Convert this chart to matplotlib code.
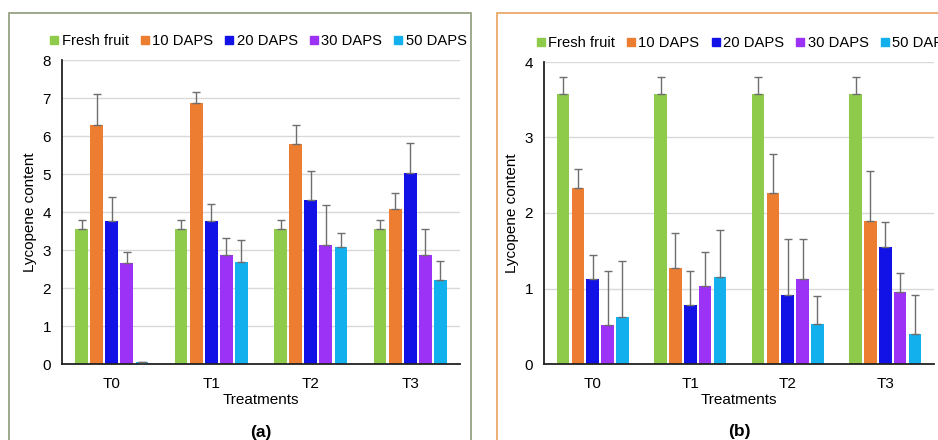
import matplotlib
matplotlib.use("Agg")
import matplotlib.pyplot as plt
import numpy as np
from matplotlib.patches import Rectangle
from matplotlib.lines import Line2D

plt.rcParams['font.family'] = ['Liberation Sans', 'DejaVu Sans']

treatments = ["T0", "T1", "T2", "T3"]
series = ["Fresh fruit", "10 DAPS", "20 DAPS", "30 DAPS", "50 DAPS"]
colors = ["#8FCB4A", "#ED7D31", "#1212E6", "#9B32F5", "#12B0EC"]

# panel (a) values and upper error limits
a_fresh = [3.55, 3.55, 3.55, 3.55]
a_10 = [6.28, 6.88, 5.80, 4.08]
a_20 = [3.75, 3.75, 4.32, 5.02]
a_30 = [2.65, 2.88, 3.12, 2.88]
a_50 = [0.05, 2.68, 3.08, 2.22]
a_err_fresh = [0.23, 0.23, 0.23, 0.23]
a_err_10 = [0.82, 0.27, 0.48, 0.42]
a_err_20 = [0.65, 0.47, 0.76, 0.80]
a_err_30 = [0.30, 0.44, 1.06, 0.67]
a_err_50 = [0.0, 0.57, 0.37, 0.50]

# panel (b)
b_fresh = [3.57, 3.57, 3.57, 3.57]
b_10 = [2.33, 1.27, 2.27, 1.90]
b_20 = [1.12, 0.78, 0.92, 1.55]
b_30 = [0.52, 1.03, 1.13, 0.95]
b_50 = [0.62, 1.15, 0.53, 0.40]
b_err_fresh = [0.23, 0.23, 0.23, 0.23]
b_err_10 = [0.25, 0.46, 0.51, 0.65]
b_err_20 = [0.33, 0.45, 0.74, 0.33]
b_err_30 = [0.71, 0.45, 0.53, 0.25]
b_err_50 = [0.74, 0.63, 0.37, 0.52]

fig = plt.figure(figsize=(9.38, 4.4), dpi=100)

# panel frames
fig.patches.append(Rectangle((9/938, -0.05), (471-9)/938, (440-13)/440 + 0.05,
                             transform=fig.transFigure, fill=False,
                             edgecolor="#8E9B7A", linewidth=1.2, zorder=0))
fig.patches.append(Rectangle((497/938, -0.05), 0.5, (440-13)/440 + 0.05,
                             transform=fig.transFigure, fill=False,
                             edgecolor="#E9A25E", linewidth=1.2, zorder=0))

ax1 = fig.add_axes([62/938, (440-364)/440, (460-62)/938, 304/440])
ax2 = fig.add_axes([544/938, (440-364)/440, (934-544)/938, 302/440])


def draw(ax, vals, errs, ymax, label, legx):
    x = np.arange(len(treatments))
    step = 0.152
    w = 0.13
    for i, (v, e, c) in enumerate(zip(vals, errs, colors)):
        pos = x + (i - 2) * step
        ax.bar(pos, v, w, color=c, zorder=2)
        ax.errorbar(pos, v, yerr=[np.zeros(len(e)), e], fmt="none",
                    ecolor="#6e6e6e", elinewidth=1.0, capsize=3, capthick=1.0, zorder=3)
    ax.set_ylim(0, ymax)
    ax.set_xlim(-0.5, 3.5)
    ax.set_xticks(x)
    ax.set_xticklabels(treatments, fontsize=11)
    ax.set_yticks(range(0, ymax + 1))
    ax.tick_params(axis="y", labelsize=11, length=0, pad=8)
    ax.tick_params(axis="x", length=0, pad=9)
    ax.yaxis.grid(True, color="#d9d9d9", linewidth=1.0, zorder=0)
    ax.set_axisbelow(True)
    for s in ["top", "right"]:
        ax.spines[s].set_visible(False)
    ax.spines["left"].set_color("#222222")
    ax.spines["bottom"].set_color("#222222")
    ax.spines["left"].set_linewidth(1.3)
    ax.spines["bottom"].set_linewidth(1.3)
    ax.set_xlabel("Treatments", fontsize=11, labelpad=2)
    ax.set_ylabel("Lycopene content", fontsize=11, labelpad=4)
    handles = [Line2D([], [], marker="s", linestyle="none", markersize=5.5,
                      markerfacecolor=c, markeredgecolor=c) for c in colors]
    ax.legend(handles, series, ncol=5, loc="lower left",
              bbox_to_anchor=(legx, 1.0), frameon=False, fontsize=10.6,
              handlelength=0.6, handletextpad=0.2, columnspacing=0.8,
              borderaxespad=0.4)
    ax.text(0.5, -0.224, label, transform=ax.transAxes, ha="center", va="center",
            fontsize=12.5, fontweight="bold")


draw(ax1, [a_fresh, a_10, a_20, a_30, a_50],
     [a_err_fresh, a_err_10, a_err_20, a_err_30, a_err_50], 8, "(a)", -0.06)
draw(ax2, [b_fresh, b_10, b_20, b_30, b_50],
     [b_err_fresh, b_err_10, b_err_20, b_err_30, b_err_50], 4, "(b)", -0.05)

fig.savefig("out.png", dpi=100)
